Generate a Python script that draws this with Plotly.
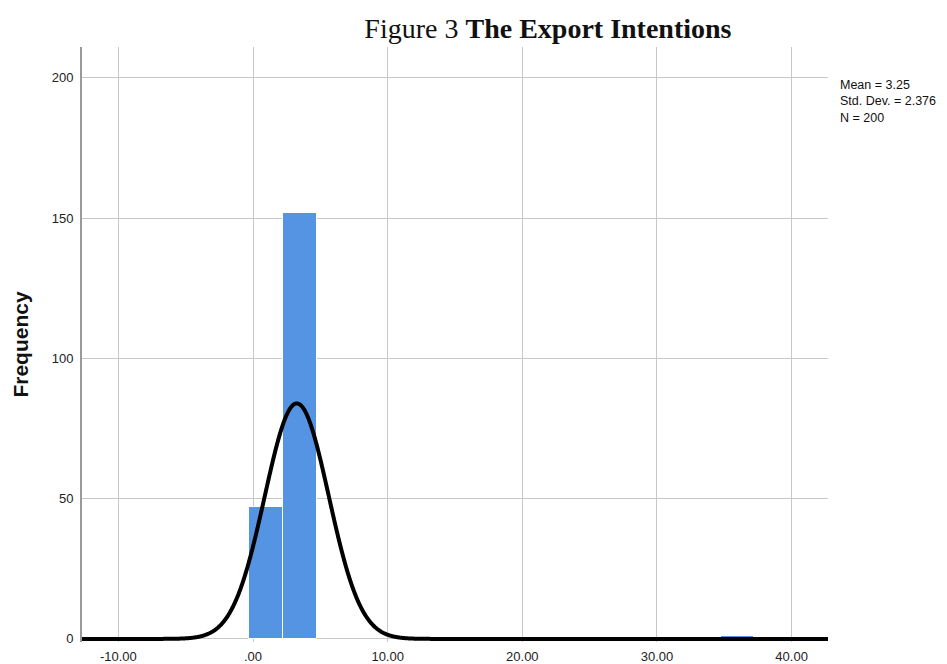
import numpy as np
import plotly.graph_objects as go

# Data
bin_start = -0.27
bin_width = 2.5
bin_index = [0, 1, 14]
counts = [47, 152, 1]
mean_val = 3.25
std_val = 2.376
n_val = 200
x_tickvals = [-10, 0, 10, 20, 30, 40]
x_ticktext = ["-10.00", ".00", "10.00", "20.00", "30.00", "40.00"]
y_tickvals = [0, 50, 100, 150, 200]

centers = [bin_start + bin_width * (i + 0.5) for i in bin_index]

xs = np.linspace(-12.7, 42.7, 1500)
pdf = n_val * bin_width / (std_val * np.sqrt(2 * np.pi)) * np.exp(-0.5 * ((xs - mean_val) / std_val) ** 2)

fig = go.Figure()
fig.add_trace(go.Bar(x=centers, y=counts, width=bin_width,
                     marker=dict(color="#5594e2", line=dict(color="#ffffff", width=1)),
                     showlegend=False, hoverinfo="x+y"))
fig.add_trace(go.Scatter(x=xs, y=pdf, mode="lines",
                         line=dict(color="black", width=4, simplify=False),
                         showlegend=False, cliponaxis=False))

# page body adds an 8px offset; figure is sized to compensate
fig.update_layout(
    width=939, height=656,
    margin=dict(l=74, r=119, t=39, b=22, autoexpand=False),
    plot_bgcolor="white", paper_bgcolor="white",
    bargap=0,
    font=dict(family="Liberation Sans, Arial", size=13, color="#222"),
    title=dict(text="Figure 3 <b>The Export Intentions</b>",
               font=dict(family="Liberation Serif, Times New Roman", size=28, color="#111"),
               x=0.575, xanchor="center", y=0.969, yanchor="middle"),
    xaxis=dict(range=[-12.7, 42.7], tickvals=x_tickvals, ticktext=x_ticktext,
               showgrid=True, gridcolor="#c8c8c8", gridwidth=1, zeroline=False,
               showline=False, ticks="", automargin=False, ticklabelstandoff=5,
               tickfont=dict(size=13, color="#222")),
    yaxis=dict(range=[-1.1, 211], tickvals=y_tickvals,
               showgrid=True, gridcolor="#c8c8c8", gridwidth=1, zeroline=False,
               showline=True, linecolor="#999999", linewidth=2, ticks="",
               automargin=False, ticklabelstandoff=4,
               tickfont=dict(size=13, color="#222"),
               title=dict(text="<b>Frequency</b>", font=dict(size=21, color="#111"), standoff=17)),
)

fig.add_annotation(xref="paper", yref="paper", x=1.013, y=0.952, xanchor="left", yanchor="top",
                   align="left", showarrow=False,
                   text=f"Mean = {mean_val}<br>Std. Dev. = {std_val}<br>N = {n_val}",
                   font=dict(size=12.5, color="#111", family="Liberation Sans, Arial"))

fig.write_html("out.html")
